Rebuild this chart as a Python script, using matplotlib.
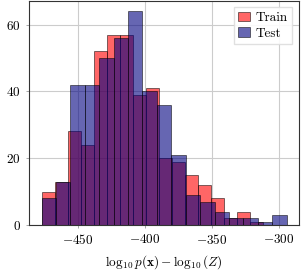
import numpy as np
import matplotlib
matplotlib.use("Agg")
import matplotlib.pyplot as plt

# data
train_counts = [10, 13, 28, 24, 52, 57, 57, 39, 41, 20, 19, 15, 12, 8, 2, 4, 1]
test_counts = [8, 13, 42, 42, 50, 56, 64, 40, 36, 21, 9, 7, 4, 2, 2, 1, 3]
train_range = (-476.9, -311.5)
test_range = (-476.9, -294.0)
labels = ["Train", "Test"]
xticks = [-450, -400, -350, -300]
yticks = [0, 20, 40, 60]

plt.rcParams["font.family"] = "serif"
plt.rcParams["font.serif"] = ["cmr10", "DejaVu Serif"]
plt.rcParams["mathtext.fontset"] = "cm"
plt.rcParams["axes.formatter.use_mathtext"] = True
plt.rcParams["font.size"] = 9.5

fig = plt.figure(figsize=(3.05, 2.74), dpi=100)
ax = fig.add_axes([0.096, 0.179, 0.884, 0.819])

train_edges = np.linspace(train_range[0], train_range[1], len(train_counts) + 1)
test_edges = np.linspace(test_range[0], test_range[1], len(test_counts) + 1)

ax.hist(train_edges[:-1], bins=train_edges, weights=train_counts,
        color="red", alpha=0.6, edgecolor="black", linewidth=0.6, label=labels[0])
ax.hist(test_edges[:-1], bins=test_edges, weights=test_counts,
        color="navy", alpha=0.6, edgecolor="black", linewidth=0.6, label=labels[1])

ax.set_xticks(xticks)
ax.set_yticks(yticks)
ax.set_axisbelow(True)
ax.grid(True, color="#cccccc", linewidth=0.8)
for s in ax.spines.values():
    s.set_color("#333333")
    s.set_linewidth(0.8)
ax.tick_params(length=2.5, width=0.6, color="#999999")
ax.set_xlabel(r"$\log_{10} p(\mathbf{x}) - \log_{10}(Z)$", labelpad=4)

leg = ax.legend(loc="upper right", handlelength=0.9, handletextpad=0.4,
                borderpad=0.35, labelspacing=0.25, fancybox=False,
                framealpha=0.9, edgecolor="#dddddd", borderaxespad=0.5)

fig.savefig("out.png", dpi=100)
